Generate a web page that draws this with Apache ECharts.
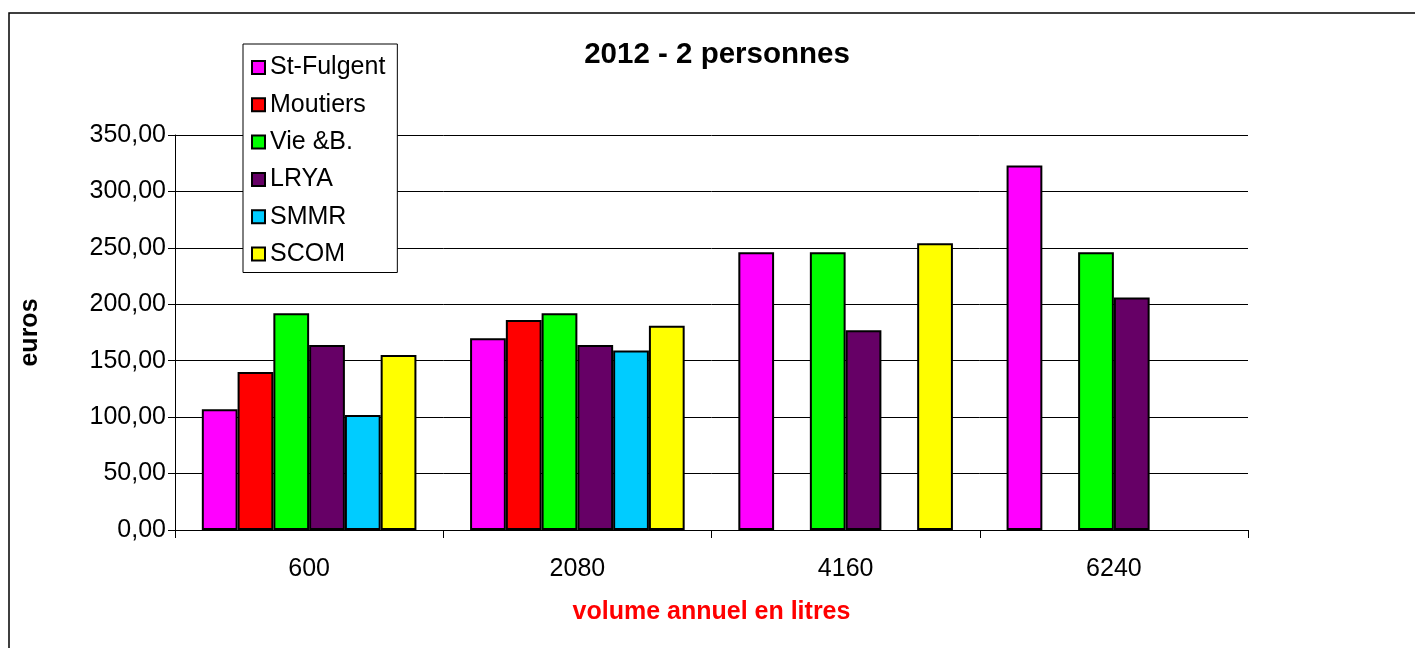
<!DOCTYPE html>
<html>
<head>
<meta charset="utf-8">
<script src="https://cdn.jsdelivr.net/npm/echarts@6/dist/echarts.min.js"></script>
<style>
html,body{margin:0;padding:0;background:#fff;}
#chart{width:1415px;height:648px;}
</style>
</head>
<body>
<div id="chart"></div>
<script>
const categories = ['600', '2080', '4160', '6240'];
const seriesNames = ['St-Fulgent', 'Moutiers', 'Vie &B.', 'LRYA', 'SMMR', 'SCOM'];
const stFulgent = [107, 170, 246, 323];
const moutiers = [140, 186, null, null];
const vieB = [192, 192, 246, 246];
const lrya = [164, 164, 177, 206];
const smmr = [102, 159, null, null];
const scom = [155, 181, 254, null];
const colors = ['#FF00FF', '#FF0000', '#00FF00', '#660066', '#00CCFF', '#FFFF00'];

const values = [stFulgent, moutiers, vieB, lrya, smmr, scom];
const FONT = '"Liberation Sans", Arial, sans-serif';

const chart = echarts.init(document.getElementById('chart'), null, {renderer: 'canvas'});
chart.setOption({
  animation: false,
  backgroundColor: '#fff',
  textStyle: {fontFamily: FONT},
  title: {
    text: '2012 - 2 personnes',
    left: 712, top: 35, textAlign: 'center',
    textStyle: {fontFamily: FONT, fontSize: 29.5, fontWeight: 'bold', color: '#000'}
  },
  graphic: [{
    type: 'rect', z: -10, silent: true,
    shape: {x: 9, y: 13, width: 1420, height: 660},
    style: {fill: 'none', stroke: '#000', lineWidth: 1.5}
  }],
  legend: {
    orient: 'vertical', left: 243, top: 44,
    backgroundColor: '#fff', borderColor: '#000', borderWidth: 1,
    padding: [11, 12, 6, 8],
    icon: 'rect',
    itemWidth: 13, itemHeight: 13, itemGap: 12.3,
    textStyle: {fontFamily: FONT, fontSize: 25, color: '#000', lineHeight: 25},
    data: seriesNames
  },
  grid: {left: 175, right: 167, top: 135, bottom: 118, containLabel: false},
  xAxis: {
    type: 'category', data: categories,
    name: 'volume annuel en litres', nameLocation: 'middle', nameGap: 70,
    nameTextStyle: {fontFamily: FONT, fontSize: 25, fontWeight: 'bold', color: '#FF0000'},
    axisLine: {show: true, lineStyle: {color: '#000', width: 1}},
    axisTick: {show: true, length: 8, alignWithLabel: false, lineStyle: {color: '#000'}},
    axisLabel: {fontFamily: FONT, fontSize: 25, color: '#000', margin: 27}
  },
  yAxis: {
    type: 'value', min: 0, max: 350, interval: 50,
    name: 'euros', nameLocation: 'middle', nameGap: 132, nameRotate: 90,
    nameTextStyle: {fontFamily: FONT, fontSize: 25, fontWeight: 'bold', color: '#000'},
    axisLine: {show: true, lineStyle: {color: '#000', width: 1}},
    axisTick: {show: true, length: 7, inside: false, lineStyle: {color: '#000'}},
    axisLabel: {fontFamily: FONT, fontSize: 25, color: '#000', margin: 9,
      formatter: v => v.toFixed(2).replace('.', ',')},
    splitLine: {show: true, lineStyle: {color: '#000', width: 1}}
  },
  series: seriesNames.map((name, i) => ({
    name: name, type: 'bar', data: values[i],
    barGap: '0%', barCategoryGap: '20%',
    itemStyle: {color: colors[i], borderColor: '#000', borderWidth: 2}
  }))
});
</script>
</body>
</html>
